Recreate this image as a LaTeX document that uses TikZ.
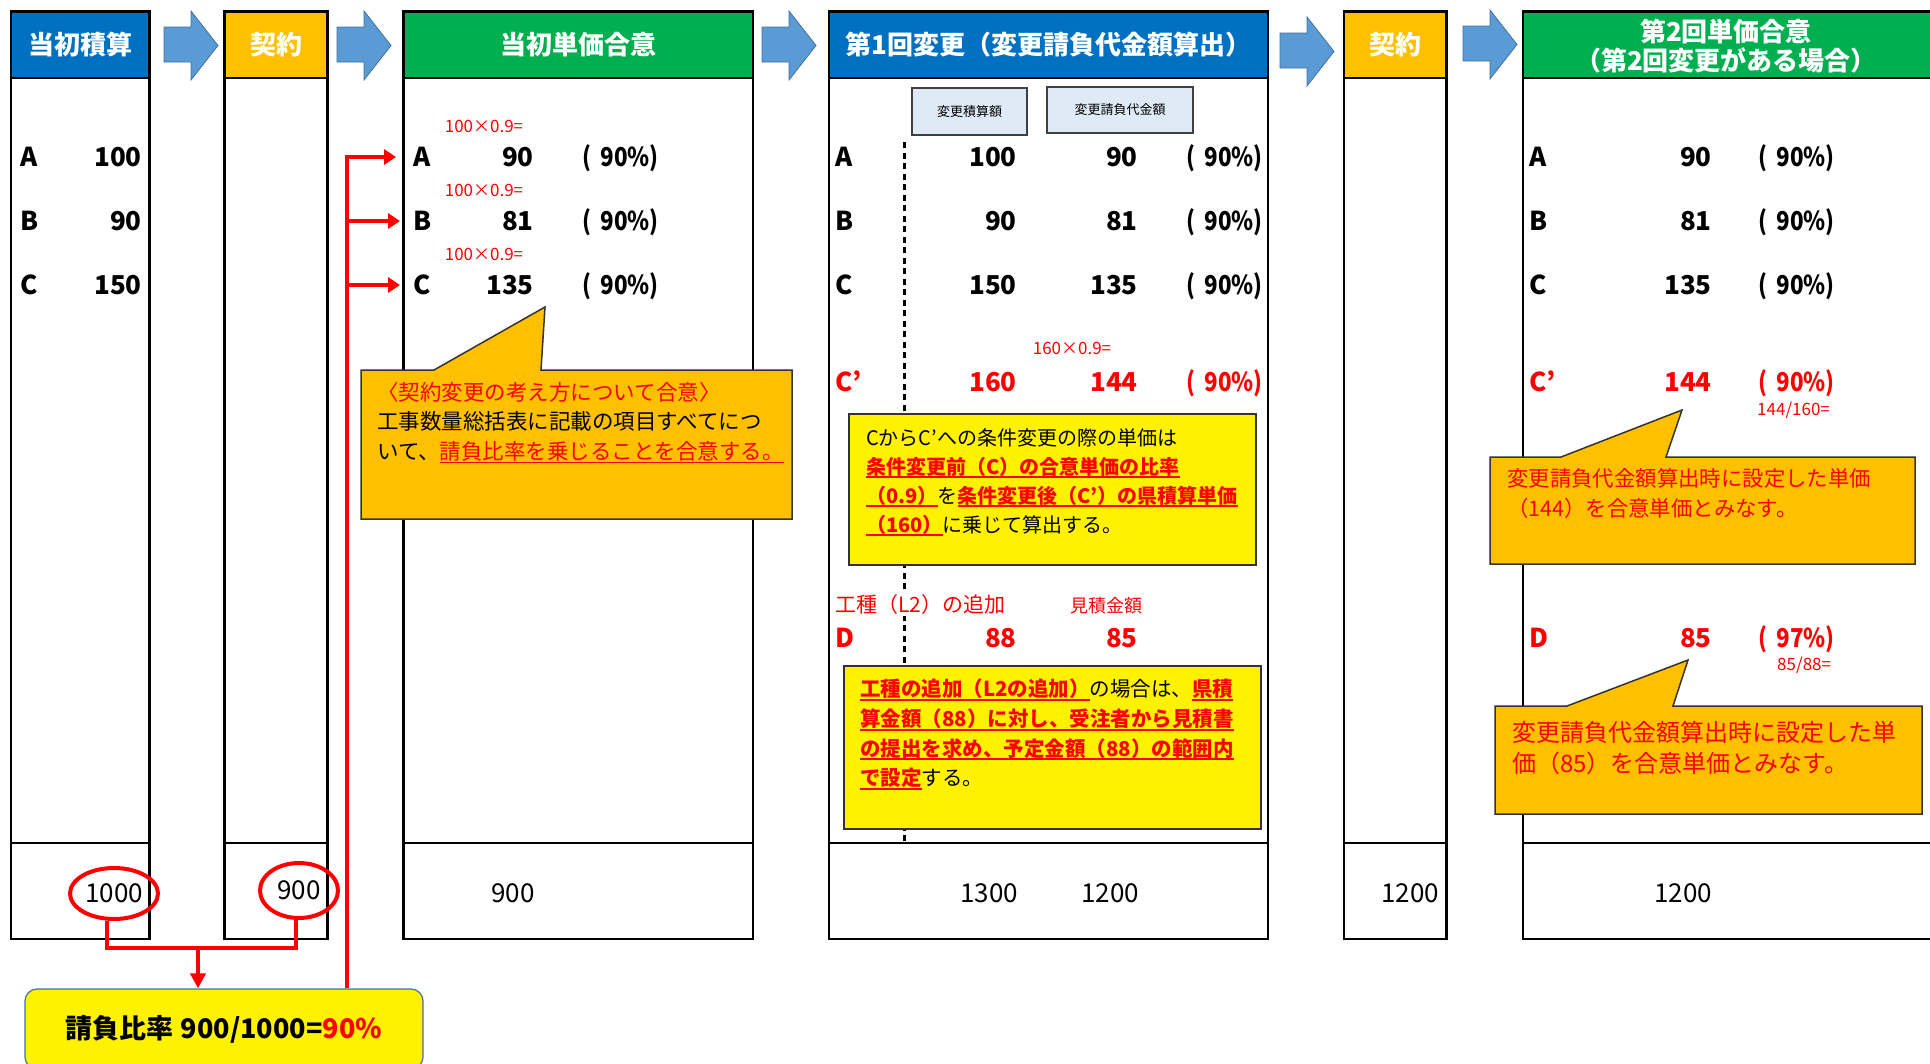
\documentclass[tikz,border=0pt]{standalone}
\usepackage{fontspec}
\setmainfont{Noto Sans CJK JP}
\usetikzlibrary{positioning,shapes.geometric,arrows.meta,calc}

\definecolor{hdrblue}{HTML}{0070C0}
\definecolor{hdrgold}{HTML}{FFC000}
\definecolor{hdrgreen}{HTML}{00B050}
\definecolor{arrblue}{HTML}{5B9BD5}
\definecolor{arredge}{HTML}{41719C}
\definecolor{notegold}{HTML}{FFC000}
\definecolor{lightbox}{HTML}{DEEBF7}

\newcommand{\fsz}[2]{\fontsize{#1pt}{#2pt}\selectfont}
% underline drawn as a rule under a box
\newcommand{\ulr}[1]{\setbox0\hbox{#1}\rlap{\rule[-4pt]{\wd0}{1.7pt}}\box0}
\newcommand{\rul}[1]{{\bfseries\color{red}\ulr{#1}}}
\newcommand{\pct}[1]{\scalebox{0.86}[1]{(\hspace{11pt}#1\%)}}

\tikzset{
  colline/.style={draw=black, line width=2.4pt},
  hdrtxt/.style={text=white, font=\bfseries\fsz{26}{29}, align=center},
  rowlab/.style={anchor=west, inner sep=0pt, text height=18pt, text depth=0pt,
    font=\bfseries\fsz{26}{30}},
  rownum/.style={anchor=east, inner sep=0pt, text height=18pt, text depth=0pt,
    font=\bfseries\fsz{26}{30}},
  totnum/.style={inner sep=0pt, font=\fsz{26}{30}},
  formula/.style={text=red, inner sep=0pt, font=\fsz{17}{20}},
  blockarr/.style={fill=arrblue, draw=arredge, line width=0.8pt},
  redln/.style={draw=red, line width=4pt},
  ringnum/.style={ellipse, draw=red, line width=4pt, inner sep=0pt, font=\fsz{26}{30}},
  notebg/.style={fill=notegold, draw=black!80, line width=1.5pt},
  rulebg/.style={fill=yellow, draw=black!80, line width=1.5pt},
  notetxt/.style={anchor=north west, inner sep=0pt, align=left},
  hbox/.style={fill=lightbox, draw=black!75, line width=1.5pt, font=\fsz{13}{15}},
  divline/.style={line width=3pt, dash pattern=on 6pt off 4.5pt},
  ratiobox/.style={rounded corners=12pt, fill=yellow, draw=arredge, line width=1.2pt,
    font=\bfseries\fsz{27}{30}},
}

\begin{document}
\begin{tikzpicture}[x=1pt,y=-1pt]
  \useasboundingbox (0,0) rectangle (1930,1063);
  \clip (0,0) rectangle (1930,1063);

  % column frames: body, footer line, header
  \foreach \xl/\xr/\hc in {11/149.5/hdrblue, 224.5/327.5/hdrgold, 403.5/753/hdrgreen,
                           829/1268/hdrblue, 1344/1446.5/hdrgold, 1523/1940/hdrgreen}{
    \draw[colline] (\xl,78) rectangle (\xr,939);
    \draw[colline] (\xl,843) -- (\xr,843);
    \filldraw[colline, fill=\hc] (\xl,11.5) rectangle (\xr,78);
  }

  % header titles
  \node[hdrtxt] (hd1) at (80,45) {当初積算};
  \node[hdrtxt] (hd2) at (276,45) {契約};
  \node[hdrtxt] (hd3) at (578,45) {当初単価合意};
  \node[hdrtxt] (hd4) at (1048.5,45) {第1回変更（変更請負代金額算出）};
  \node[hdrtxt] (hd5) at (1395,45) {契約};
  \node[hdrtxt] (hd6) at (1726,46) {第2回単価合意\\（第2回変更がある場合）};

  % blue block arrows between columns
  \foreach \xa/\ya in {164/11, 337/11, 762/11, 1280/17, 1463/10}
    \filldraw[blockarr] (\xa,\ya+16) -- (\xa+27,\ya+16) -- (\xa+27,\ya) -- (\xa+54,\ya+34.5)
      -- (\xa+27,\ya+69) -- (\xa+27,\ya+51) -- (\xa,\ya+51) -- cycle;

  % initial estimate
  \foreach \lab/\val/\yy in {A/100/157, B/90/221, C/150/285}{
    \node[rowlab] (ini\lab) at (20,\yy) {\lab};
    \node[rownum] (iniv\lab) at (142,\yy) {\val};
  }

  % initial unit price agreement
  \foreach \lab/\val/\yy in {A/90/157, B/81/221, C/135/285}{
    \node[rowlab] (agr\lab) at (413,\yy) {\lab};
    \node[rownum] (agrv\lab) at (534,\yy) {\val};
    \node[rowlab] (agrp\lab) at (582,\yy) {\pct{90}};
    \node[formula] (agrf\lab) at (484,\yy-31) {100×0.9=};
  }

  % first change
  \draw[divline] (904,142) -- (904,841);
  \node[hbox, minimum width=115, minimum height=47] (estbox) at (969.5,111.5) {変更積算額};
  \node[hbox, minimum width=146, minimum height=46] (cntbox) at (1120,110) {変更請負代金額};
  \foreach \lab/\va/\vb/\yy in {A/100/90/157, B/90/81/221, C/150/135/285}{
    \node[rowlab] (chg\lab) at (835,\yy) {\lab};
    \node[rownum] (chga\lab) at (1017,\yy) {\va};
    \node[rownum] (chgb\lab) at (1138,\yy) {\vb};
    \node[rowlab] (chgp\lab) at (1186,\yy) {\pct{90}};
  }
  \node[formula] (chgf) at (1072,348) {160×0.9=};
  \node[rowlab, text=red] (chgCC) at (835,382) {C’};
  \node[rownum, text=red] (chgaCC) at (1017,382) {160};
  \node[rownum, text=red] (chgbCC) at (1138,382) {144};
  \node[rowlab, text=red] (chgpCC) at (1186,382) {\pct{90}};
  \node[anchor=mid west, inner sep=1pt, fill=white, text=red, font=\fsz{21}{24}] (addlab) at (834,610) {工種（L2）の追加};
  \node[inner sep=0pt, text=red, font=\fsz{18}{20}] (estlab) at (1106,606) {見積金額};
  \node[rowlab, text=red] (chgD) at (835,638) {D};
  \node[rownum, text=red] (chgaD) at (1017,638) {88};
  \node[rownum, text=red] (chgbD) at (1138,638) {85};

  \filldraw[rulebg] (849,414) rectangle (1256,565);
  \node[notetxt, font=\fsz{20}{29}] (rule1) at (866,428) {%
    CからC’への条件変更の際の単価は\\
    \rul{条件変更前（C）の合意単価の比率}\\
    \rul{（0.9）}を\rul{条件変更後（C’）の県積算単価}\\
    \rul{（160）}に乗じて算出する。};
  \filldraw[rulebg] (844,666) rectangle (1261,829);
  \node[notetxt, font=\fsz{20.5}{29.6}] (rule2) at (860,679) {%
    \rul{工種の追加（L2の追加）}の場合は、\rul{県積}\\
    \rul{算金額（88）に対し、受注者から見積書}\\
    \rul{の提出を求め、予定金額（88）の範囲内}\\
    \rul{で設定}する。};

  % second unit price agreement
  \foreach \lab/\val/\yy in {A/90/157, B/81/221, C/135/285}{
    \node[rowlab] (sec\lab) at (1529,\yy) {\lab};
    \node[rownum] (secv\lab) at (1712,\yy) {\val};
    \node[rowlab] (secp\lab) at (1758,\yy) {\pct{90}};
  }
  \node[rowlab, text=red] (secCC) at (1529,382) {C’};
  \node[rownum, text=red] (secvCC) at (1712,382) {144};
  \node[rowlab, text=red] (secpCC) at (1758,382) {\pct{90}};
  \node[formula, anchor=mid west] (secfCC) at (1757,413) {144/160=};
  \node[rowlab, text=red] (secD) at (1529,638) {D};
  \node[rownum, text=red] (secvD) at (1712,638) {85};
  \node[rowlab, text=red] (secpD) at (1758,638) {\pct{97}};
  \node[formula, anchor=mid west] (secfD) at (1777,668) {85/88=};

  % callouts
  \filldraw[notebg] (361,370) -- (434,370) -- (545,307) -- (541,370) -- (792,370)
    -- (792,519) -- (361,519) -- cycle;
  \node[notetxt, font=\fsz{21.5}{29.5}] (note1) at (377,382) {%
    {\color{red}〈契約変更の考え方について合意〉}\\
    工事数量総括表に記載の項目すべてにつ\\
    いて、{\color{red}\ulr{請負比率を乗じることを合意する。}}};
  \filldraw[notebg] (1490,457) -- (1561,457) -- (1682,410) -- (1666,457) -- (1915,457)
    -- (1915,564) -- (1490,564) -- cycle;
  \node[notetxt, text=red, font=\fsz{21.4}{30}] (note2) at (1507,468) {%
    変更請負代金額算出時に設定した単価\\（144）を合意単価とみなす。};
  \filldraw[notebg] (1495,706) -- (1567,706) -- (1688,660) -- (1673,706) -- (1922,706)
    -- (1922,814) -- (1495,814) -- cycle;
  \node[notetxt, text=red, font=\fsz{24}{31}] (note3) at (1512,721) {%
    変更請負代金額算出時に設定した単\\価（85）を合意単価とみなす。};

  % totals
  \node[ringnum, minimum width=88, minimum height=51] (tot1) at (114,893.5) {1000};
  \node[ringnum, minimum width=78, minimum height=55] (tot2) at (299,890.5) {\raisebox{-3pt}{900}};
  \node[totnum] (tot3) at (513,893) {900};
  \node[totnum] (tot4a) at (989,893) {1300};
  \node[totnum] (tot4b) at (1110,893) {1200};
  \node[totnum] (tot5) at (1410,893) {1200};
  \node[totnum] (tot6) at (1683,893) {1200};

  % contract ratio
  \node[ratiobox, minimum width=398, minimum height=80] (ratio) at (224,1029)
    {請負比率\hspace{7pt}900/1000=\textcolor{red}{90\%}};
  \coordinate (join) at (198,948);
  \draw[redln] ([xshift=-7pt]tot1.south) |- (join) -| ([xshift=-3pt]tot2.south);
  \draw[redln, -{Triangle[length=15pt,width=15pt]}] (join) -- (join |- ratio.north);
  \coordinate (spine) at (347,0);
  \draw[redln, -{Triangle[length=12pt,width=15pt]}] (spine |- ratio.north)
    |- ([xshift=-17pt]agrA.west);
  \draw[redln, -{Triangle[length=12pt,width=15pt]}] (spine |- agrB.west)
    -- ([xshift=-13pt]agrB.west);
  \draw[redln, -{Triangle[length=12pt,width=15pt]}] (spine |- agrC.west)
    -- ([xshift=-13pt]agrC.west);
\end{tikzpicture}
\end{document}
